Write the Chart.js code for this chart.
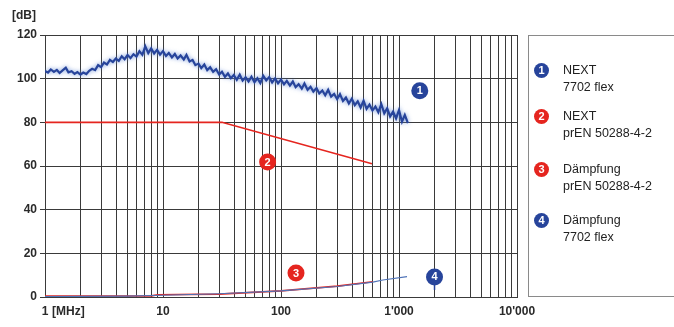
<!DOCTYPE html>
<html>
<head>
<meta charset="utf-8">
<script src="https://cdn.jsdelivr.net/npm/chart.js@4.4.1/dist/chart.umd.min.js"></script>
<style>
  html, body { margin: 0; padding: 0; background: #fff; }
  #wrap { position: relative; width: 674px; height: 327px; }
  #legend {
    position: absolute; left: 528px; top: 35px; width: 146px; height: 262px;
    border: 1px solid #8a8a8a; border-right: none; box-sizing: border-box;
    font-family: 'Liberation Sans', Arial, sans-serif; font-size: 12.5px; color: #222;
  }
  .dot {
    position: absolute; left: 5px; width: 15px; height: 15px; border-radius: 50%;
    color: #fff; font-weight: bold; font-size: 11px; text-align: center; line-height: 15px;
  }
  .txt { position: absolute; left: 34px; line-height: 17px; white-space: nowrap; }
</style>
</head>
<body>
<div id="wrap">
  <canvas id="chart" width="674" height="327"></canvas>
  <div id="legend"></div>
</div>
<script>
// frequencies in MHz for the measured NEXT curve
const freqNext = [
  1, 1.06, 1.12, 1.19, 1.26, 1.33, 1.41, 1.5, 1.58, 1.68, 1.78, 1.88, 2, 2.11, 2.24, 2.37, 2.51, 2.66, 2.82, 2.99,
  3.16, 3.35, 3.55, 3.76, 3.98, 4.22, 4.47, 4.73, 5.01, 5.31, 5.62, 5.96, 6.31, 6.68, 7.08, 7.5, 7.94, 8.41, 8.91, 9.44,
  10, 10.6, 11.2, 11.9, 12.6, 13.3, 14.1, 15, 15.8, 16.8, 17.8, 18.8, 20, 21.1, 22.4, 23.7, 25.1, 26.6, 28.2, 29.9,
  31.6, 33.5, 35.5, 37.6, 39.8, 42.2, 44.7, 47.3, 50.1, 53.1, 56.2, 59.6, 63.1, 66.8, 70.8, 75, 79.4, 84.1, 89.1, 94.4,
  100, 106, 112, 119, 126, 133, 141, 150, 158, 168, 178, 188, 200, 211, 224, 237, 251, 266, 282, 299,
  316, 335, 355, 376, 398, 422, 447, 473, 501, 531, 562, 596, 631, 668, 708, 750, 794, 841, 891, 944,
  1000, 1060, 1120, 1190
];
// NEXT 7702 flex, dB
const next7702 = [
  103.5, 102.8, 104.2, 103.1, 104.0, 102.6, 103.8, 105.0, 102.9, 103.4, 102.2, 103.0, 101.9, 102.8, 102.1, 103.6, 104.5, 103.9, 106.2, 105.3,
  107.4, 106.5, 108.6, 107.6, 109.2, 108.1, 110.3, 108.9, 110.8, 109.4, 111.2, 110.1, 112.6, 110.9, 114.8, 111.7, 113.9, 111.5, 113.2, 111.0,
  112.6, 110.4, 111.8, 109.7, 111.3, 109.2, 110.6, 108.8, 110.9, 107.9, 108.6, 106.2, 106.9, 104.8, 106.5, 103.9, 105.2, 103.1, 104.3, 101.9,
  103.2, 100.8, 102.4, 100.2, 101.7, 99.5, 101.9, 99.1, 100.6, 98.7, 100.9, 98.4, 100.2, 98.0, 101.3, 99.2, 100.7, 98.3, 100.1, 97.9,
  99.6, 97.4, 99.0, 96.8, 98.7, 96.1, 97.5, 95.4, 97.8, 94.9, 96.3, 94.1, 95.7, 93.2, 94.6, 92.4, 94.9, 91.8, 93.0, 90.7,
  92.9, 89.8, 91.4, 88.6, 90.8, 87.9, 89.6, 86.8, 89.9, 86.2, 88.1, 85.4, 87.2, 84.6, 88.3, 84.1, 86.4, 82.7, 84.9, 81.8,
  85.6, 80.3, 83.4, 79.6
];

// NEXT limit prEN 50288-4-2
const freqNextLimit = [1, 31.6, 590];
const nextLimit = [80, 80, 61];

// Dämpfung limit prEN 50288-4-2
const freqAttLimit = [1, 8, 9, 30, 100, 300, 600];
const attLimit = [0.4, 0.5, 1.0, 1.3, 2.8, 5.0, 7.0];

// Dämpfung 7702 flex
const freqAtt = [1, 5, 10, 30, 100, 300, 600, 730, 1170];
const att7702 = [0.2, 0.4, 0.8, 1.5, 2.8, 4.8, 6.8, 7.8, 9.3];

const xTickValues = [1, 10, 100, 1000, 10000];
const xTickLabels = ['1', '10', '100', "1'000", "10'000"];
const yTicks = [0, 20, 40, 60, 80, 100, 120];

const seriesNames = [
  ['NEXT', '7702 flex'],
  ['NEXT', 'prEN 50288-4-2'],
  ['Dämpfung', 'prEN 50288-4-2'],
  ['Dämpfung', '7702 flex']
];

const BLUE = '#27449b';
const RED = '#e5251f';
const badgeColors = [BLUE, RED, RED, BLUE];
// where the numbered badges sit, in data units (MHz, dB)
const badgeFreq = [1500, 77, 134, 2000];
const badgeDb = [94.5, 61.8, 11, 9.2];

const pts = (xs, ys) => xs.map((x, i) => ({ x, y: ys[i] }));

const FONT = "'Liberation Sans', Arial, sans-serif";

// soft halo around the measured NEXT trace, like the scanned original
const halo = {
  id: 'halo',
  beforeDatasetDraw(chart, args) {
    if (args.index !== 3) return;
    chart.ctx.save();
    chart.ctx.shadowColor = 'rgba(90,130,210,0.8)';
    chart.ctx.shadowBlur = 4;
  },
  afterDatasetDraw(chart, args) {
    if (args.index !== 3) return;
    chart.ctx.restore();
  }
};

const badges = {
  id: 'badges',
  afterDatasetsDraw(chart) {
    const { ctx, scales } = chart;
    ctx.save();
    badgeFreq.forEach((f, i) => {
      const px = scales.x.getPixelForValue(f);
      const py = scales.y.getPixelForValue(badgeDb[i]);
      if (i === 3) {
        ctx.strokeStyle = badgeColors[i];
        ctx.lineWidth = 1.5;
        ctx.beginPath();
        ctx.moveTo(px, py);
        ctx.lineTo(px, py + 13);
        ctx.stroke();
      }
      ctx.fillStyle = badgeColors[i];
      ctx.beginPath();
      ctx.arc(px, py, 8.5, 0, Math.PI * 2);
      ctx.fill();
      ctx.fillStyle = '#fff';
      ctx.font = 'bold 11px ' + FONT;
      ctx.textAlign = 'center';
      ctx.textBaseline = 'middle';
      ctx.fillText(String(i + 1), px, py + 0.5);
    });
    // unit labels
    ctx.fillStyle = '#2a2a2a';
    ctx.font = 'bold 12px ' + FONT;
    ctx.textAlign = 'left';
    ctx.textBaseline = 'middle';
    ctx.fillText('[dB]', 12, 16);
    ctx.fillText('[MHz]', scales.x.getPixelForValue(1) + 7, 312);
    ctx.restore();
  }
};

const ctx = document.getElementById('chart').getContext('2d');
new Chart(ctx, {
  type: 'line',
  data: {
    datasets: [
      { data: pts(freqAtt, att7702), borderColor: '#4f73b8', borderWidth: 1.2 },
      { data: pts(freqAttLimit, attLimit), borderColor: RED, borderWidth: 1.6 },
      { data: pts(freqNextLimit, nextLimit), borderColor: RED, borderWidth: 1.6 },
      { data: pts(freqNext, next7702), borderColor: BLUE, borderWidth: 2.2 }
    ]
  },
  options: {
    responsive: false,
    animation: false,
    layout: { padding: { left: 0, top: 35, right: 157, bottom: 0 } },
    elements: { point: { radius: 0 }, line: { tension: 0, fill: false } },
    plugins: { legend: { display: false }, tooltip: { enabled: false } },
    scales: {
      x: {
        type: 'logarithmic',
        min: 1,
        max: 10000,
        afterBuildTicks: scale => {
          const t = [];
          for (let d = 1; d < 10000; d *= 10) {
            for (let m = 1; m < 10; m++) t.push({ value: m * d });
          }
          t.push({ value: 10000 });
          scale.ticks = t;
        },
        afterFit: scale => { scale.height = 30; },
        ticks: {
          autoSkip: false,
          maxRotation: 0,
          padding: 7,
          color: '#2a2a2a',
          font: { family: FONT, size: 12, weight: 'bold' },
          callback: v => {
            const k = xTickValues.indexOf(v);
            return k >= 0 ? xTickLabels[k] : '';
          }
        },
        grid: { color: '#3a3a3a', lineWidth: 1, drawTicks: false },
        border: { color: '#3a3a3a' }
      },
      y: {
        min: 0,
        max: 120,
        afterBuildTicks: scale => { scale.ticks = yTicks.map(v => ({ value: v })); },
        afterFit: scale => { scale.width = 45; },
        ticks: {
          padding: 3,
          color: '#2a2a2a',
          font: { family: FONT, size: 12, weight: 'bold' }
        },
        grid: { color: '#3a3a3a', lineWidth: 1, tickLength: 5 },
        border: { color: '#3a3a3a' }
      }
    }
  },
  plugins: [halo, badges]
});

// legend on the right
const legendTops = [27, 73, 126, 177];
const legend = document.getElementById('legend');
seriesNames.forEach((lines, i) => {
  const dot = document.createElement('div');
  dot.className = 'dot';
  dot.style.background = badgeColors[i];
  dot.style.top = legendTops[i] + 'px';
  dot.textContent = String(i + 1);
  legend.appendChild(dot);
  const txt = document.createElement('div');
  txt.className = 'txt';
  txt.style.top = (legendTops[i] - 1) + 'px';
  txt.innerHTML = lines.join('<br>');
  legend.appendChild(txt);
});
</script>
</body>
</html>
